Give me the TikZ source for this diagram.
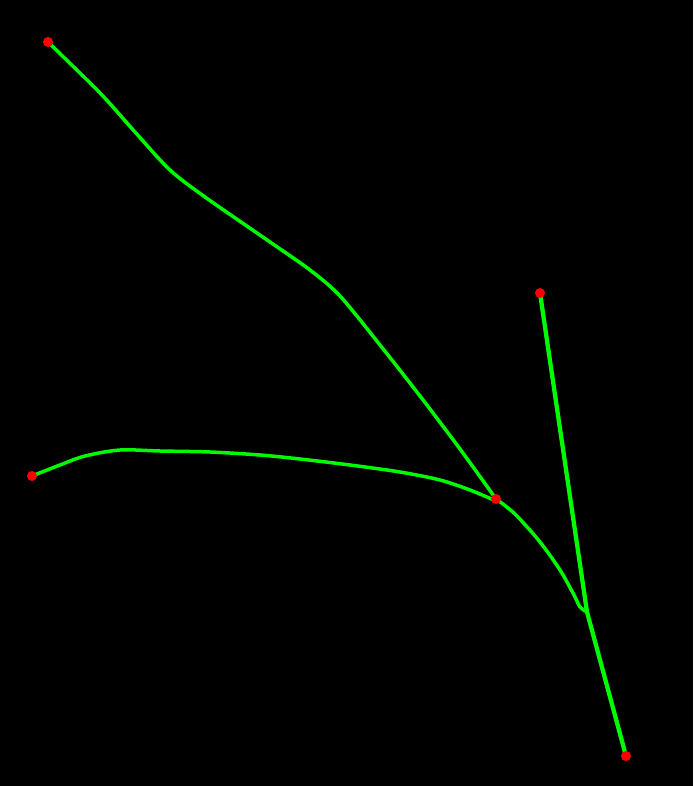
\documentclass[tikz,border=0pt]{standalone}
\begin{document}
\begin{tikzpicture}[x=1pt,y=-1pt,
  branch/.style={draw={rgb,255:red,0;green,250;blue,0},line width=3.5pt,line cap=round,line join=round},
  tip/.style={circle,fill=red,inner sep=0pt,minimum size=10pt}]
\fill[black] (0,0) rectangle (693,786);
\useasboundingbox (0,0) rectangle (693,786);
\coordinate (k) at (587,612);
\draw[branch] plot[smooth,tension=0.5] coordinates {(48,42) (100,93) (135,132) (170,170) (205,197) (270,242) (310,270) (340,296) (380,345) (420,396) (460,449) (496,499)};
\draw[branch] plot[smooth,tension=0.5] coordinates {(32,476) (60,465) (85,456) (120,450) (160,451) (210,452) (260,455) (300,459) (350,465) (400,472) (440,480) (470,490) (496,501)};
\draw[branch] plot[smooth,tension=0.5] coordinates {(496,499) (515,514) (540,542) (560,570) (574,595) (580,607) (587,612)};
\draw[branch,line width=4.3pt] (540,293) -- (k) -- (626,756);
\node[tip] (a) at (48,42) {};
\node[tip] (b) at (540,293) {};
\node[tip] (c) at (32,476) {};
\node[tip] (d) at (496,499) {};
\node[tip] (e) at (626,756) {};
\end{tikzpicture}
\end{document}
